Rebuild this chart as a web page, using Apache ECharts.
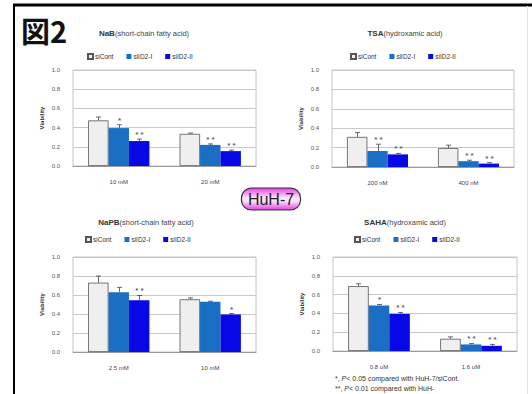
<!DOCTYPE html>
<html><head><meta charset="utf-8">
<script src="https://cdn.jsdelivr.net/npm/echarts@6/dist/echarts.min.js"></script>
<style>html,body{margin:0;padding:0;background:#fff}#c{width:532px;height:394px}</style>
</head><body><div id="c"></div>
<script>
// ---------- data ----------
const seriesNames = ['siCont', 'siID2-I', 'siID2-II'];

const nabCats = ['10 mM', '20 mM'];
const nabSiCont = [0.475, 0.335];
const nabSiID2I = [0.395, 0.22];
const nabSiID2II = [0.26, 0.155];
const nabErrSiCont = [0.035, 0.008];
const nabErrSiID2I = [0.035, 0.01];
const nabErrSiID2II = [0.02, 0.01];
const nabSig = [['', ''], ['*', '**'], ['**', '**']];

const tsaCats = ['200 nM', '400 nM'];
const tsaSiCont = [0.31, 0.195];
const tsaSiID2I = [0.165, 0.06];
const tsaSiID2II = [0.13, 0.035];
const tsaErrSiCont = [0.045, 0.03];
const tsaErrSiID2I = [0.07, 0.01];
const tsaErrSiID2II = [0.01, 0.01];
const tsaSig = [['', ''], ['**', '**'], ['**', '**']];

const napbCats = ['2.5 mM', '10 mM'];
const napbSiCont = [0.73, 0.555];
const napbSiID2I = [0.63, 0.53];
const napbSiID2II = [0.545, 0.395];
const napbErrSiCont = [0.07, 0.015];
const napbErrSiID2I = [0.05, 0.005];
const napbErrSiID2II = [0.05, 0.01];
const napbSig = [['', ''], ['', ''], ['**', '*']];

const sahaCats = ['0.8 uM', '1.6 uM'];
const sahaSiCont = [0.69, 0.13];
const sahaSiID2I = [0.485, 0.07];
const sahaSiID2II = [0.395, 0.055];
const sahaErrSiCont = [0.025, 0.02];
const sahaErrSiID2I = [0.01, 0.01];
const sahaErrSiID2II = [0.015, 0.015];
const sahaSig = [['', ''], ['*', '**'], ['**', '**']];

const panelTitles = [
  ['NaB', '(short-chain fatty acid)'],
  ['TSA', '(hydroxamic acid)'],
  ['NaPB', '(short-chain fatty acid)'],
  ['SAHA', '(hydroxamic acid)']
];
const footnote1 = ['*, ', 'P', '< 0.05 compared with HuH-7/siCont.'];
const footnote2 = ['**, ', 'P', '< 0.01 compared with HuH-'];

// ---------- layout / style ----------
const panels = [
  { cats: nabCats, vals: [nabSiCont, nabSiID2I, nabSiID2II], errs: [nabErrSiCont, nabErrSiID2I, nabErrSiID2II], sig: nabSig,
    grid: { left: 73, top: 70, width: 183, height: 96 }, title: [144, 33], legend: [87, 53] },
  { cats: tsaCats, vals: [tsaSiCont, tsaSiID2I, tsaSiID2II], errs: [tsaErrSiCont, tsaErrSiID2I, tsaErrSiID2II], sig: tsaSig,
    grid: { left: 332, top: 70, width: 182, height: 97 }, title: [405, 33], legend: [350, 53] },
  { cats: napbCats, vals: [napbSiCont, napbSiID2I, napbSiID2II], errs: [napbErrSiCont, napbErrSiID2I, napbErrSiID2II], sig: napbSig,
    grid: { left: 73, top: 257, width: 183, height: 95 }, title: [146, 222], legend: [85, 236] },
  { cats: sahaCats, vals: [sahaSiCont, sahaSiID2I, sahaSiID2II], errs: [sahaErrSiCont, sahaErrSiID2I, sahaErrSiID2II], sig: sahaSig,
    grid: { left: 333, top: 257, width: 184, height: 94 }, title: [405, 222], legend: [354, 236] }
];
const colors = ['#efefef', '#1a6ec4', '#0808e6'];
const FONT = 'Liberation Sans, Arial, sans-serif';
const GAP = 0.33;

const grids = [], xAxes = [], yAxes = [], series = [], legends = [], graphics = [];

panels.forEach((p, gi) => {
  grids.push(Object.assign({ show: true, borderColor: '#c4c4c4', borderWidth: 1, backgroundColor: '#fff' }, p.grid));
  xAxes.push({
    type: 'category', gridIndex: gi, data: p.cats,
    axisLine: { lineStyle: { color: '#9a9a9a' } }, axisTick: { show: false },
    axisLabel: { fontSize: 6, color: '#444', margin: 13, fontFamily: FONT }
  });
  yAxes.push({
    type: 'value', gridIndex: gi, min: 0, max: 1, interval: 0.2,
    name: 'Viability', nameLocation: 'middle', nameGap: 28,
    nameTextStyle: { fontSize: 6, fontWeight: 'bold', color: '#333', fontFamily: FONT },
    axisLine: { show: false }, axisTick: { show: false },
    axisLabel: { fontSize: 6, color: '#555', margin: 13, fontFamily: FONT, formatter: v => v.toFixed(1) },
    splitLine: { lineStyle: { color: '#c8c8c8', width: 1 } }
  });
  seriesNames.forEach((nm, si) => {
    series.push({
      type: 'bar', name: nm, xAxisIndex: gi, yAxisIndex: gi, data: p.vals[si],
      barGap: '0%', barCategoryGap: (GAP * 100) + '%',
      itemStyle: { color: colors[si], borderColor: si === 0 ? '#555' : colors[si], borderWidth: si === 0 ? 0.8 : 0 },
      emphasis: { disabled: true }, animation: false
    });
  });
  const rows = [], texts = [];
  for (let s = 0; s < 3; s++) for (let i = 0; i < p.cats.length; i++) {
    rows.push([i, p.vals[s][i], p.vals[s][i] + p.errs[s][i], s]);
    texts.push(p.sig[s][i]);
  }
  series.push({
    type: 'custom', xAxisIndex: gi, yAxisIndex: gi, data: rows, encode: { x: 0, y: [1, 2] }, z: 5, animation: false,
    renderItem: (params, api) => {
      const i = api.value(0), v = api.value(1), top = api.value(2), s = api.value(3);
      const band = api.size([1, 0])[0];
      const bw = band * (1 - GAP) / 3;
      const cx = Math.round(api.coord([i, 0])[0] + (s - 1) * bw) + 0.5;
      const y0 = api.coord([i, v])[1], y1 = api.coord([i, top])[1];
      const st = { stroke: '#444', lineWidth: 0.8 };
      const ch = [
        { type: 'line', shape: { x1: cx, y1: y0, x2: cx, y2: y1 }, style: st },
        { type: 'line', shape: { x1: cx - 2.5, y1: y1, x2: cx + 2.5, y2: y1 }, style: st }
      ];
      const t = texts[params.dataIndex];
      if (t) ch.push({ type: 'text', style: { text: t.split('').join(' '), x: cx, y: y1 - 0.5, textAlign: 'center', textVerticalAlign: 'bottom', font: 'bold 8px ' + FONT, fill: '#666' } });
      return { type: 'group', children: ch };
    }
  });
  legends.push({
    left: p.legend[0], top: p.legend[1], data: seriesNames, icon: 'rect', itemWidth: 5, itemHeight: 5, itemGap: 13,
    selectedMode: false, textStyle: { fontSize: 6.5, color: '#333', fontFamily: FONT, padding: [0, 0, 0, -3] }, padding: 0
  });
  graphics.push({
    type: 'text', style: {
      text: '{b|' + panelTitles[gi][0] + '}{n|' + panelTitles[gi][1] + '}', x: p.title[0], y: p.title[1],
      textAlign: 'center', textVerticalAlign: 'middle',
      rich: { b: { fontSize: 8, fontWeight: 'bold', fill: '#333', fontFamily: FONT }, n: { fontSize: 7.5, fill: '#444', fontFamily: FONT } }
    }
  });
});

// frame
graphics.push({ type: 'line', shape: { x1: 13, y1: 5, x2: 532, y2: 5 }, style: { stroke: '#000', lineWidth: 3 } });
graphics.push({ type: 'line', shape: { x1: 14, y1: 4, x2: 14, y2: 394 }, style: { stroke: '#000', lineWidth: 2 } });
graphics.push({ type: 'line', shape: { x1: 527.5, y1: 6, x2: 527.5, y2: 394 }, style: { stroke: '#e4e4e4', lineWidth: 1 } });
// figure label
graphics.push({ type: 'text', style: { text: '図2', x: 21, y: 30, textVerticalAlign: 'middle', font: 'bold 29px "Noto Sans CJK JP", Liberation Sans, sans-serif', fill: '#111' } });
// HuH-7 badge
graphics.push({
  type: 'rect', shape: { x: 241.5, y: 188, width: 59, height: 22, r: 10 },
  style: {
    fill: { type: 'linear', x: 0, y: 0, x2: 0, y2: 1, colorStops: [
      { offset: 0, color: '#e83ce8' }, { offset: 0.45, color: '#fbe6fb' }, { offset: 0.6, color: '#fbe0fb' }, { offset: 1, color: '#e040e0' }] },
    stroke: '#333', lineWidth: 1.2
  }
});
graphics.push({ type: 'text', style: { text: 'HuH-7', x: 271, y: 199.5, textAlign: 'center', textVerticalAlign: 'middle', font: '16px ' + FONT, fill: '#222' } });
// footnotes
graphics.push({ type: 'text', style: { text: '{a|' + footnote1[0] + '}{i|' + footnote1[1] + '}{a|' + footnote1[2] + '}', x: 335, y: 378, textVerticalAlign: 'middle',
  rich: { a: { fontSize: 7, fill: '#333', fontFamily: FONT }, i: { fontSize: 7, fontStyle: 'italic', fill: '#333', fontFamily: FONT } } } });
graphics.push({ type: 'text', style: { text: '{a|' + footnote2[0] + '}{i|' + footnote2[1] + '}{a|' + footnote2[2] + '}', x: 335, y: 388.5, textVerticalAlign: 'middle',
  rich: { a: { fontSize: 7, fill: '#333', fontFamily: FONT }, i: { fontSize: 7, fontStyle: 'italic', fill: '#333', fontFamily: FONT } } } });

const chart = echarts.init(document.getElementById('c'), null, { renderer: 'svg', width: 532, height: 394 });
chart.setOption({
  backgroundColor: '#fff', animation: false,
  grid: grids, xAxis: xAxes, yAxis: yAxes, series: series, legend: legends, graphic: graphics
});
</script></body></html>
